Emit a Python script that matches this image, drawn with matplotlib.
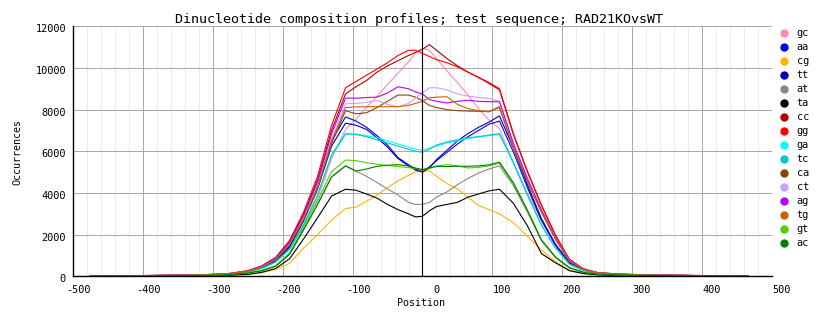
import numpy as np
import matplotlib
matplotlib.use("Agg")
import matplotlib.pyplot as plt
from matplotlib.lines import Line2D
from matplotlib.transforms import ScaledTranslation

# ---------------- data ----------------
title = "Dinucleotide composition profiles; test sequence; RAD21KOvsWT"
xlabel = "Position"
ylabel = "Occurrences"

pos = [-475, -400, -330, -280, -250, -230, -210, -190, -170, -150, -130,
       -110, -95, -80, -65, -50, -35, -20, -10, 0, 10, 20, 35, 50, 65, 80, 95, 110,
       130, 150, 170, 190, 210, 230, 250, 280, 330, 400, 465]

gc = [20, 30, 50, 90, 210, 390, 700, 1340, 2400, 3740, 5640,
      7050, 7550, 8100, 8650, 9200, 9750, 10300, 10700, 10950, 10850, 10450, 9850, 9300, 8700, 8050, 7500, 7100,
      5400, 3980, 2700, 1560, 640, 280, 140, 85, 50, 28, 21]
aa = [23, 31, 54, 99, 230, 420, 765, 1450, 2750, 4360, 6500,
      7650, 7450, 7150, 6750, 6300, 5700, 5350, 5150, 5050, 5250, 5550, 5950, 6350, 6700, 7000, 7300, 7450,
      5960, 4250, 2680, 1490, 630, 300, 150, 90, 52, 30, 22]
cg = [10, 13, 23, 42, 95, 170, 330, 620, 1350, 2000, 2700,
      3250, 3320, 3600, 3900, 4250, 4580, 4850, 5020, 5080, 5050, 4800, 4450, 4200, 3800, 3400, 3200, 3000,
      2570, 1920, 1250, 700, 300, 130, 60, 36, 21, 12, 9]
tt = [22, 29, 51, 96, 220, 400, 735, 1400, 2650, 4190, 6250,
      7350, 7250, 7050, 6650, 6200, 5650, 5300, 5100, 5000, 5200, 5600, 6050, 6500, 6850, 7150, 7400, 7700,
      6160, 4390, 2770, 1540, 655, 310, 154, 92, 54, 31, 23]
at = [16, 21, 37, 69, 160, 265, 480, 1060, 2230, 3450, 4770,
      5300, 5050, 4800, 4500, 4200, 3900, 3550, 3450, 3450, 3550, 3800, 4050, 4400, 4700, 4950, 5150, 5300,
      4350, 3070, 1700, 900, 400, 185, 106, 64, 37, 21, 16]
ta = [13, 17, 28, 50, 90, 190, 370, 840, 1790, 2810, 3850,
      4180, 4130, 3950, 3750, 3450, 3200, 3000, 2850, 2880, 3150, 3350, 3450, 3550, 3800, 3950, 4100, 4180,
      3500, 2420, 1090, 650, 270, 130, 70, 45, 28, 17, 13]
cc = [26, 35, 61, 114, 260, 480, 875, 1660, 2980, 4640, 7000,
      8750, 9100, 9400, 9800, 10100, 10350, 10600, 10750, 10900, 11120, 10850, 10450, 10100, 9800, 9550, 9300, 9000,
      6840, 5040, 3420, 1980, 810, 360, 180, 108, 63, 36, 27]
gg = [27, 36, 63, 118, 270, 500, 905, 1720, 3080, 4800, 7240,
      9050, 9350, 9650, 9950, 10250, 10600, 10850, 10850, 10700, 10550, 10400, 10250, 10050, 9800, 9550, 9250, 8950,
      6800, 5010, 3400, 1970, 805, 358, 179, 107, 63, 36, 27]
ga = [20, 27, 48, 88, 204, 374, 680, 1290, 2450, 3880, 5780,
      6800, 6800, 6750, 6650, 6500, 6350, 6200, 6100, 6050, 6150, 6250, 6400, 6500, 6600, 6700, 6750, 6800,
      5440, 3880, 2450, 1360, 580, 272, 136, 82, 48, 27, 20]
tc = [21, 27, 48, 89, 206, 377, 685, 1300, 2470, 3900, 5820,
      6850, 6820, 6700, 6550, 6400, 6250, 6100, 6000, 5950, 6100, 6300, 6450, 6550, 6650, 6700, 6780, 6850,
      5480, 3905, 2466, 1370, 582, 274, 137, 82, 48, 27, 21]
ca = [24, 32, 56, 103, 240, 437, 795, 1510, 2700, 4210, 6360,
      7950, 7800, 7850, 8100, 8400, 8700, 8700, 8600, 8430, 8200, 8100, 8000, 7950, 7930, 7920, 7900, 8100,
      6160, 4540, 3080, 1780, 730, 324, 162, 97, 57, 32, 24]
ct = [25, 33, 58, 108, 250, 455, 830, 1570, 2820, 4390, 6620,
      8280, 8300, 8350, 8450, 8250, 8130, 8300, 8550, 8800, 9050, 9050, 8950, 8750, 8650, 8580, 8540, 8400,
      6380, 4700, 3190, 1850, 756, 336, 168, 101, 59, 34, 25]
ag = [26, 34, 60, 111, 257, 470, 855, 1625, 2910, 4530, 6840,
      8550, 8550, 8580, 8600, 8800, 9100, 9000, 8850, 8750, 8480, 8400, 8320, 8400, 8450, 8400, 8380, 8380,
      6370, 4690, 3180, 1840, 754, 335, 168, 101, 59, 34, 25]
tg = [24, 32, 57, 105, 243, 446, 810, 1540, 2750, 4290, 6480,
      8100, 8130, 8140, 8140, 8140, 8140, 8200, 8300, 8400, 8570, 8600, 8620, 8250, 8050, 7950, 7900, 8150,
      6190, 4560, 3100, 1790, 734, 326, 163, 98, 57, 33, 24]
gt = [17, 22, 39, 73, 167, 279, 500, 1120, 2340, 3630, 5020,
      5580, 5550, 5450, 5380, 5320, 5270, 5220, 5170, 5120, 5180, 5300, 5360, 5300, 5200, 5230, 5300, 5420,
      4440, 3140, 1730, 920, 407, 190, 108, 65, 38, 22, 16]
ac = [16, 21, 37, 69, 160, 265, 480, 1060, 2230, 3450, 4770,
      5300, 5050, 5150, 5280, 5330, 5360, 5300, 5200, 5120, 5200, 5270, 5270, 5280, 5280, 5300, 5350, 5480,
      4490, 3180, 1750, 930, 411, 192, 110, 66, 38, 22, 16]

series_names = ["gc", "aa", "cg", "tt", "at", "ta", "cc", "gg",
                "ga", "tc", "ca", "ct", "ag", "tg", "gt", "ac"]
series_values = [gc, aa, cg, tt, at, ta, cc, gg, ga, tc, ca, ct, ag, tg, gt, ac]

xtick_vals = [-500, -400, -300, -200, -100, 0, 100, 200, 300, 400, 500]
xtick_labels = ["-500", "-400", "-300", "-200", "-100", "0", "100", "200", "300", "400", "500"]
ytick_vals = [0, 2000, 4000, 6000, 8000, 10000, 12000]
ytick_labels = ["0", "2000", "4000", "6000", "8000", "10000", "12000"]

# ---------------- style ----------------
colors = ["#ff8cb4", "#0000ff", "#ffb400", "#0000b4", "#888888", "#000000",
          "#b40000", "#ff0000", "#00ffff", "#00c8c8", "#8b4513", "#c8a0ff",
          "#b400ff", "#c86400", "#50d000", "#008000"]
MONO = ["DejaVu Sans Mono"]

W, H = 834, 328
fig = plt.figure(figsize=(W / 100, H / 100), dpi=100)
ax_l, ax_r, ax_t, ax_b = 72.7, 772.3, 26.3, 276.3
ax = fig.add_axes([ax_l / W, 1 - ax_b / H, (ax_r - ax_l) / W, (ax_b - ax_t) / H])

ax.set_xlim(-500, 500)
ax.set_ylim(0, 12000)

ax.set_xticks(xtick_vals)
ax.set_xticks(np.arange(-500, 501, 20), minor=True)
ax.set_yticks(ytick_vals)
ax.tick_params(which="both", length=0, labelbottom=False, labelleft=False)
ax.grid(which="minor", axis="x", color="#ebebeb", lw=0.72, zorder=0)
ax.grid(which="major", axis="both", color="#aaaaaa", lw=0.72, zorder=0)
ax.set_axisbelow(True)
for s in ["top", "right"]:
    ax.spines[s].set_visible(False)
for s in ["left", "bottom"]:
    ax.spines[s].set_color("black")
    ax.spines[s].set_linewidth(1.0)

for name, vals, c in zip(series_names, series_values, colors):
    ax.plot(pos, vals, color=c, lw=0.8, zorder=2)

ax.axvline(0, color="black", lw=0.8, zorder=5)

# tick labels (placed like the original renderer)
tsize = 7.4
for v, lab in zip(xtick_vals, xtick_labels):
    if lab.startswith("-"):
        dx = -6.7
    elif lab == "0":
        dx = 10.6
    else:
        dx = 0.0
    tr = ax.get_xaxis_transform() + ScaledTranslation(dx / 100, -9 / 100, fig.dpi_scale_trans)
    ax.text(v, 0, lab, transform=tr, ha="left", va="top", fontsize=tsize, family=MONO, clip_on=False)
for v, lab in zip(ytick_vals, ytick_labels):
    tr = ax.get_yaxis_transform() + ScaledTranslation(-6.7 / 100, -3 / 100, fig.dpi_scale_trans)
    ax.text(0, v, lab, transform=tr, ha="right", va="center", fontsize=tsize, family=MONO, clip_on=False)

fig.text(419 / W, 1 - 19 / H, title, ha="center", va="center", fontsize=9.6, family=MONO)
fig.text(421 / W, 1 - 303 / H, xlabel, ha="center", va="center", fontsize=7.2, family=MONO)
fig.text(17.5 / W, 1 - 152 / H, ylabel, ha="center", va="center", rotation=90, fontsize=7.2, family=MONO)

# legend
for i, (name, c) in enumerate(zip(series_names, colors)):
    y = 1 - (33.3 + 14 * i) / H
    fig.add_artist(Line2D([784.3 / W], [y], transform=fig.transFigure, marker="o",
                          markersize=5, color=c, linestyle="none"))
    fig.text(796.7 / W, y, name, ha="left", va="center", fontsize=7.4, family=MONO)

fig.savefig("out.png", dpi=100)
